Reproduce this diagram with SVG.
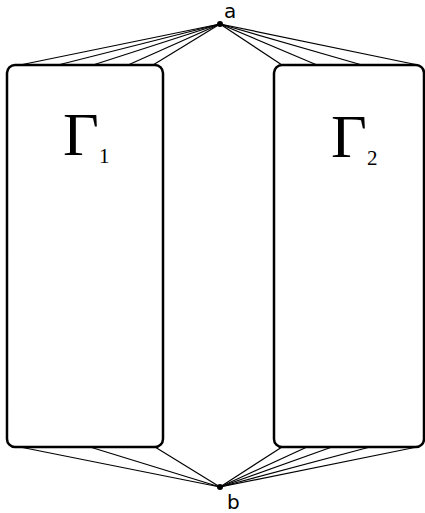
<svg xmlns="http://www.w3.org/2000/svg" width="425" height="513" viewBox="0 0 425 513">
<style>
.box{fill:#fff;stroke:#000;stroke-width:2.5}
.e{stroke:#000;stroke-width:1.2;fill:none}
.big{font-family:"Liberation Serif",serif;font-size:62px}
.sub{font-family:"Liberation Serif",serif;font-size:21px}
.lbl{font-family:"DejaVu Sans","Liberation Sans",sans-serif;font-size:20px}
</style>
<rect width="425" height="513" fill="#fff"/>
<g id="connectors">
<line class="e" x1="220" y1="24" x2="20" y2="65"/>
<line class="e" x1="220" y1="24" x2="58" y2="65"/>
<line class="e" x1="220" y1="24" x2="93" y2="65"/>
<line class="e" x1="220" y1="24" x2="128" y2="65"/>
<line class="e" x1="220" y1="24" x2="153" y2="65"/>
<line class="e" x1="220" y1="24" x2="282" y2="65"/>
<line class="e" x1="220" y1="24" x2="317" y2="65"/>
<line class="e" x1="220" y1="24" x2="362" y2="65"/>
<line class="e" x1="220" y1="24" x2="418" y2="65"/>
<line class="e" x1="220" y1="487" x2="20" y2="447"/>
<line class="e" x1="220" y1="487" x2="90" y2="447"/>
<line class="e" x1="220" y1="487" x2="155" y2="447"/>
<line class="e" x1="220" y1="487" x2="282" y2="447"/>
<line class="e" x1="220" y1="487" x2="307" y2="447"/>
<line class="e" x1="220" y1="487" x2="332" y2="447"/>
<line class="e" x1="220" y1="487" x2="370" y2="447"/>
<line class="e" x1="220" y1="487" x2="417" y2="447"/>
</g>
<g id="G1">
<rect class="box" x="7" y="65" width="156" height="382" rx="8"/>
<text class="big" x="63" y="155">Γ</text>
<text class="sub" x="99" y="163">1</text>
</g>
<g id="G2">
<rect class="box" x="274" y="65" width="150" height="382" rx="8"/>
<text class="big" x="331" y="157">Γ</text>
<text class="sub" x="367" y="165">2</text>
</g>
<g id="a">
<circle cx="220" cy="24" r="3"/>
<text class="lbl" x="224" y="18">a</text>
</g>
<g id="b">
<circle cx="220" cy="487" r="3"/>
<text class="lbl" x="227" y="509">b</text>
</g>
</svg>
